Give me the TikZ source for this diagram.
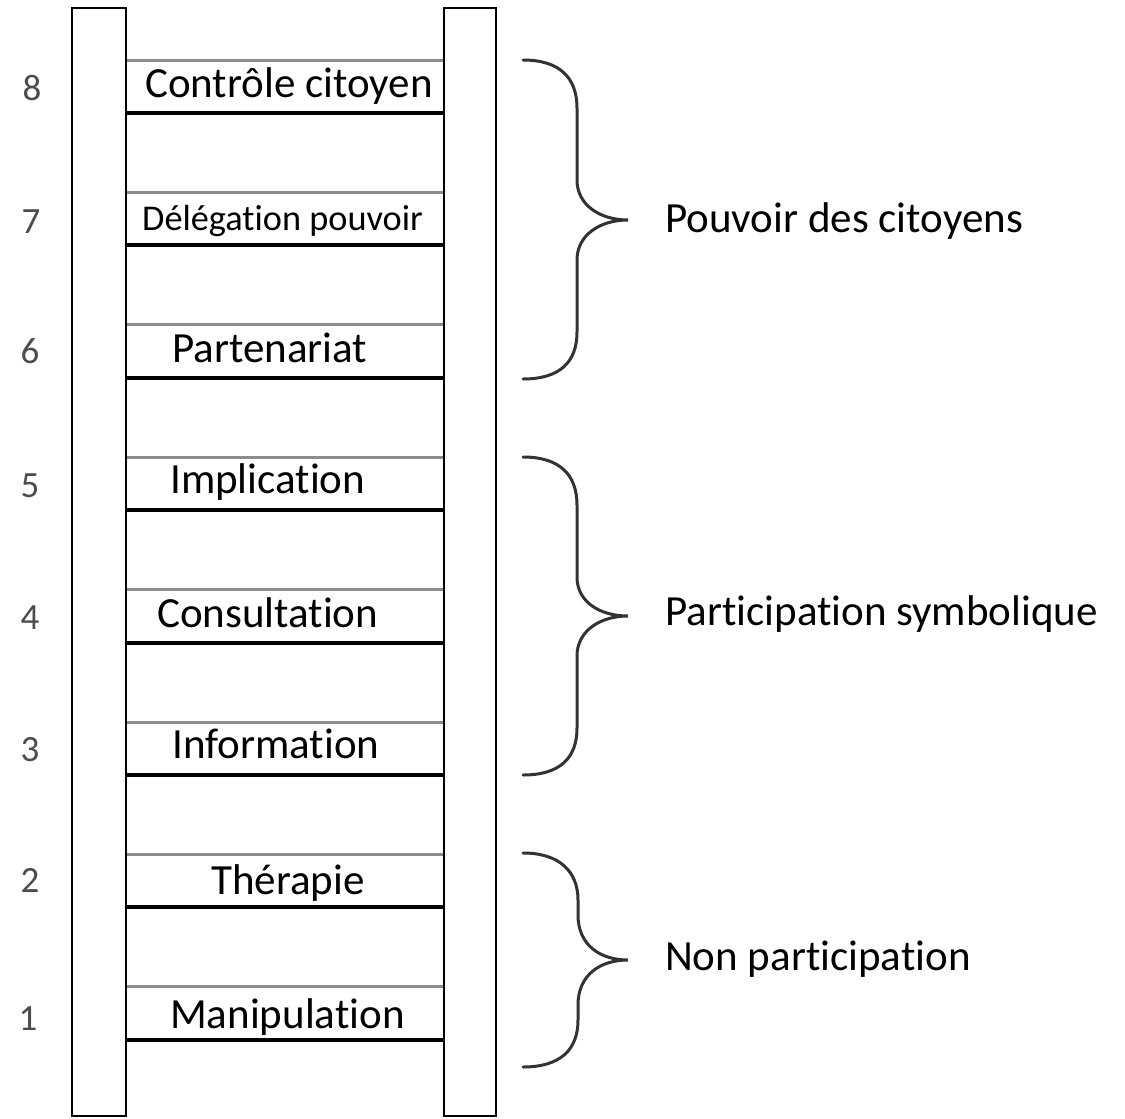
\documentclass[tikz,border=0pt]{standalone}
\usepackage{fontspec}
\setmainfont{Carlito}[RawFeature=-liga]
\begin{document}
\begin{tikzpicture}[x=1pt,y=-1pt,
  rail/.style={draw=black,line width=2.8pt,fill=white},
  rungtop/.style={draw=black!45,line width=3pt},
  rungbot/.style={draw=black,line width=4pt},
  steplabel/.style={anchor=base west,inner sep=0pt,text=black,font=\fontsize{43}{48}\selectfont},
  numlabel/.style={anchor=base,inner sep=0pt,text=black!70,font=\fontsize{37}{42}\selectfont},
  grouplabel/.style={anchor=base west,inner sep=0pt,text=black,font=\fontsize{43}{48}\selectfont},
  bracestyle/.style={draw=black!80,line width=3pt,line cap=round}]
\useasboundingbox (0,0) rectangle (1125,1119);
\fill[white] (0,0) rectangle (1125,1119);
% rails
\draw[rail] (72,8) rectangle (126,1116);
\draw[rail] (444,8) rectangle (496,1116);
% rungs
\foreach \k in {0,...,7}{
  \pgfmathsetmacro{\yt}{60+\k*132.4}
  \pgfmathsetmacro{\yb}{\yt+53}
  \draw[rungtop] (127.4,\yt) -- (442.6,\yt);
  \draw[rungbot] (127.4,\yb) -- (442.6,\yb);
}
% step labels
\node[steplabel] (s8) at (145,97) {Contrôle citoyen};
\node[steplabel,font=\fontsize{36.3}{40}\selectfont] (s7) at (142,230) {Délégation pouvoir};
\node[steplabel] (s6) at (172,362) {Partenariat};
\node[steplabel] (s5) at (170,493) {Implication};
\node[steplabel] (s4) at (157,627) {Consultation};
\node[steplabel] (s3) at (172,758) {Information};
\node[steplabel] (s2) at (211,894) {Thérapie};
\node[steplabel] (s1) at (170,1028) {Manipulation};
% numbers
\node[numlabel] (n8) at (32,100) {8};
\node[numlabel] (n7) at (31,233) {7};
\node[numlabel] (n6) at (30,363) {6};
\node[numlabel] (n5) at (30,497) {5};
\node[numlabel] (n4) at (30,629) {4};
\node[numlabel] (n3) at (30,761) {3};
\node[numlabel] (n2) at (30,892) {2};
\node[numlabel] (n1) at (28,1030) {1};
% braces
\draw[bracestyle] (523,60) .. controls (560,60) and (577,78) .. (577,108)
  -- (577,180) .. controls (577,205) and (600,220) .. (628,220)
  .. controls (600,220) and (577,235) .. (577,260)
  -- (577,332) .. controls (577,362) and (560,379) .. (523,379);
\draw[bracestyle] (523,457) .. controls (560,457) and (577,475) .. (577,505)
  -- (577,577) .. controls (577,602) and (600,616) .. (628,616)
  .. controls (600,616) and (577,631) .. (577,656)
  -- (577,728) .. controls (577,758) and (560,775) .. (523,775);
\draw[bracestyle] (523,853) .. controls (560,853) and (578,872) .. (578,900)
  -- (578,915) .. controls (578,945) and (600,960) .. (628,960)
  .. controls (600,960) and (578,975) .. (578,1005)
  -- (578,1020) .. controls (578,1050) and (560,1067) .. (523,1067);
% group labels
\node[grouplabel] (g1) at (665,232) {Pouvoir des citoyens};
\node[grouplabel] (g2) at (665,625) {Participation symbolique};
\node[grouplabel] (g3) at (665,970) {Non participation};
\end{tikzpicture}
\end{document}
